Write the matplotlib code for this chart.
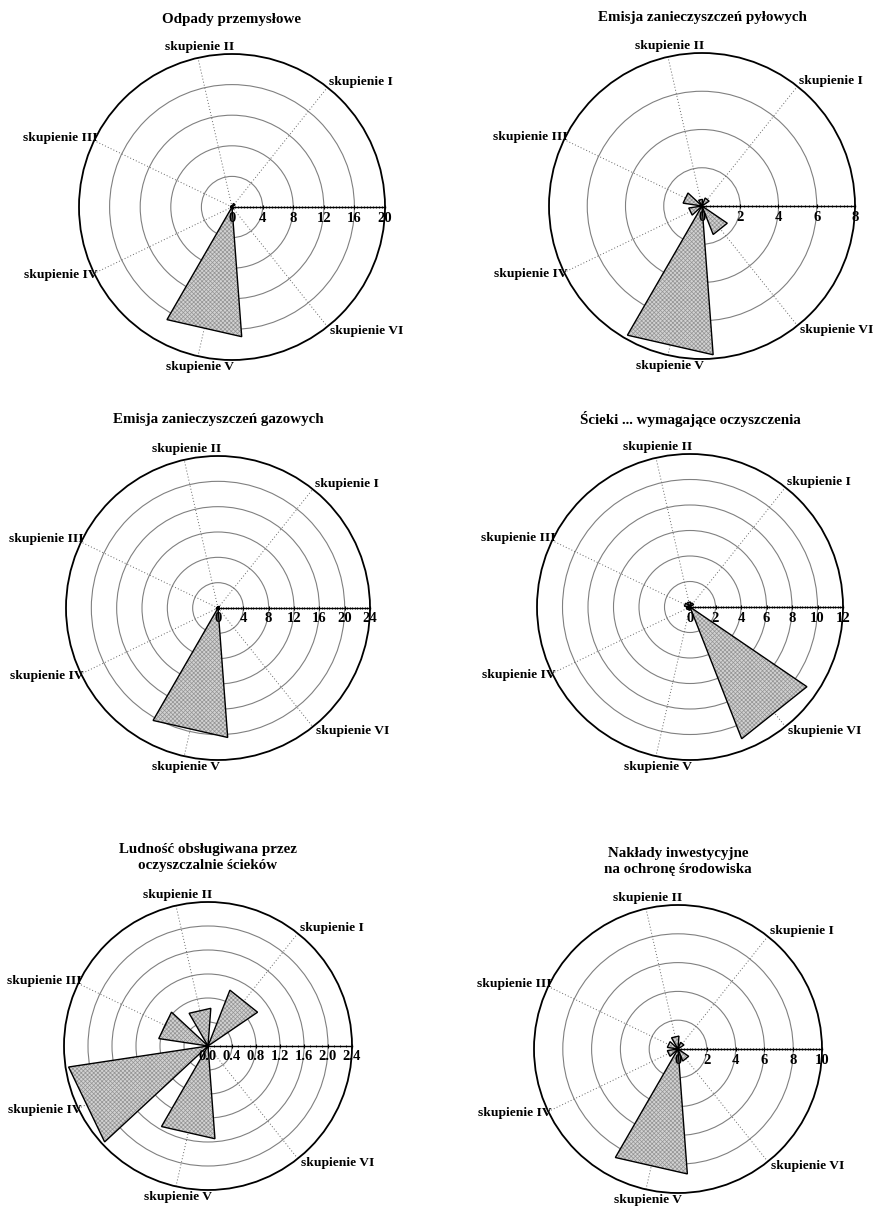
"""Rose charts of six environmental indicators by cluster"""

import numpy as np
import matplotlib
matplotlib.use('Agg')
import matplotlib.pyplot as plt
from matplotlib.patches import Circle, Polygon

plt.rcParams['font.family'] = ['Liberation Serif', 'DejaVu Serif']
plt.rcParams['font.weight'] = 'bold'
plt.rcParams['hatch.linewidth'] = 0.5

W, H = 873, 1210

# Data
CLUSTERS = ['skupienie I', 'skupienie II', 'skupienie III',
            'skupienie IV', 'skupienie V', 'skupienie VI']

TITLES = ['Odpady przemysłowe',
          'Emisja zanieczyszczeń pyłowych',
          'Emisja zanieczyszczeń gazowych',
          'Ścieki ... wymagające oczyszczenia',
          'Ludność obsługiwana przez\noczyszczalnie ścieków',
          'Nakłady inwestycyjne\nna ochronę środowiska']

odpady = [0.5, 0.2, 0.2, 0.2, 17.0, 0.3]
pylowe = [0.45, 0.35, 1.0, 0.7, 7.8, 1.6]
gazowe = [0.3, 0.2, 0.2, 0.3, 20.5, 0.3]
scieki = [0.35, 0.4, 0.45, 0.3, 0.25, 11.1]
ludnosc = [1.0, 0.63, 0.83, 2.35, 1.55, 0.0]
naklady = [0.5, 0.9, 0.75, 0.75, 8.7, 0.9]

AXIS_MAX = [20, 8, 24, 12, 2.4, 10]
AXIS_STEP = [4, 2, 4, 2, 0.4, 2]
MINOR_DIV = [10, 10, 10, 10, 4, 10]
TICK_FMT = ['{:.0f}', '{:.0f}', '{:.0f}', '{:.0f}', '{:.1f}', '{:.0f}']

# Layout: centre and radius of each rose, in pixels
CENTERS = [(232, 207), (702, 206), (218, 608), (690, 607), (208, 1046), (678, 1049)]
RADII = [153, 153, 152, 153, 144, 144]

# label placement per spoke: ha, va, dx, dy (pixels)
LABEL_POS = [('left', 'center', 2, 5),
             ('center', 'bottom', 2, 5),
             ('right', 'center', 3, 3),
             ('right', 'center', 3, -2),
             ('center', 'top', 2, -5),
             ('left', 'center', 3, -4)]

fig = plt.figure(figsize=(W / 100, H / 100), dpi=100)


def rose(cx, cy, rp, title, values, vmax, step, ndiv, fmt):
    pad = 1.45
    ax = fig.add_axes([(cx - pad * rp) / W, 1 - (cy + pad * rp) / H,
                       2 * pad * rp / W, 2 * pad * rp / H])
    ax.set_xlim(-pad * vmax, pad * vmax)
    ax.set_ylim(-pad * vmax, pad * vmax)
    ax.set_aspect('equal')
    ax.axis('off')
    px = vmax / rp

    ticks = np.linspace(0, vmax, int(round(vmax / step)) + 1)
    for t in ticks[1:-1]:
        ax.add_patch(Circle((0, 0), t, fill=False, ec='#808080', lw=0.8))
    ax.add_patch(Circle((0, 0), vmax, fill=False, ec='black', lw=1.3, zorder=4))

    sector = 2 * np.pi / 7
    half = sector / 3
    for k, v in enumerate(values):
        th = (k + 1) * sector
        ax.plot([0, vmax * np.cos(th)], [0, vmax * np.sin(th)],
                ls=(0, (1, 2.2)), color='#666666', lw=0.7, zorder=1)
        pts = [(0, 0),
               (v * np.cos(th - half), v * np.sin(th - half)),
               (v * np.cos(th + half), v * np.sin(th + half))]
        ax.add_patch(Polygon(pts, closed=True, fc='#d2d2d2', ec='#949494',
                             lw=0, hatch='xxxxxxxx', zorder=2))
        ax.add_patch(Polygon(pts, closed=True, fill=False, ec='black',
                             lw=1.0, zorder=3))
        ha, va, dx, dy = LABEL_POS[k]
        ax.text(vmax * np.cos(th) + dx * px, vmax * np.sin(th) + dy * px,
                CLUSTERS[k], ha=ha, va=va, fontsize=9.7, zorder=5)

    # value axis along 0 degrees
    ax.plot([0, vmax], [0, 0], color='black', lw=1.0, zorder=4)
    ax.vlines(ticks, -2 * px, 2 * px, color='black', lw=0.8, zorder=4)
    minor = np.linspace(0, vmax, int(round(vmax / step)) * ndiv + 1)
    ax.vlines(minor, -1 * px, 1.2 * px, color='black', lw=0.6, zorder=4)
    for t in ticks:
        ax.text(t, -4.5 * px, fmt.format(t), ha='center', va='top', fontsize=10.5, zorder=5)

    ax.text(0, 188 * px, title, ha='center', va='center', fontsize=10.8,
            linespacing=1.3)


series = [odpady, pylowe, gazowe, scieki, ludnosc, naklady]
for i in range(6):
    cx, cy = CENTERS[i]
    rose(cx, cy, RADII[i], TITLES[i], series[i], AXIS_MAX[i], AXIS_STEP[i],
         MINOR_DIV[i], TICK_FMT[i])

fig.savefig('out.png', dpi=100)
